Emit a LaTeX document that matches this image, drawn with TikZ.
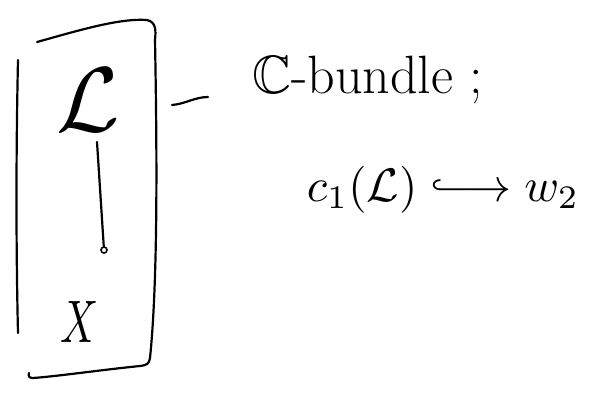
\documentclass[tikz,border=0pt]{standalone}
\usepackage{amssymb}
\begin{document}
\begin{tikzpicture}[x=1pt,y=-1pt,
  ink/.style={line width=2.2pt, line cap=round, line join=round},
  hand/.style={inner sep=0pt, font=\fontsize{54}{58}\selectfont}]
\useasboundingbox (0,0) rectangle (597,392);
% box
\draw[ink] (18,60) .. controls (16,150) and (16,250) .. (18,333);
\draw[ink] (37,42) .. controls (80,30) and (120,18) .. (147,20)
  .. controls (156,22) and (156,30) .. (155,40)
  .. controls (157,150) and (158,280) .. (150,358)
  .. controls (149,364) and (147,365) .. (140,366)
  .. controls (100,370) and (60,376) .. (33,378)
  .. controls (29,378) and (28,376) .. (29,373);
% contents
\node[inner sep=0pt, scale=9.2] (L) at (88,100) {$\mathcal{L}$};
\coordinate (Lbot) at (97,142);
\node[circle, draw, line width=1.6pt, inner sep=0pt, minimum size=6pt] (pt) at (104,250) {};
\draw[ink] (Lbot) -- (pt);
\node[inner sep=0pt, xscale=4.2, yscale=6] (X) at (80,322) {$X$};
% dash
\coordinate (d1) at (172,105);
\coordinate (d2) at (208,97);
\draw[ink] (d1) .. controls (185,104) and (195,97) .. (d2);
% texts
\node[hand, anchor=west] (bundle) at (252,80) {$\mathbb{C}$-bundle ;};
\node[inner sep=0pt, scale=4.7, anchor=west] (cls) at (306,190) {$c_1(\mathcal{L})\lhook\joinrel\longrightarrow w_2$};
\end{tikzpicture}
\end{document}
